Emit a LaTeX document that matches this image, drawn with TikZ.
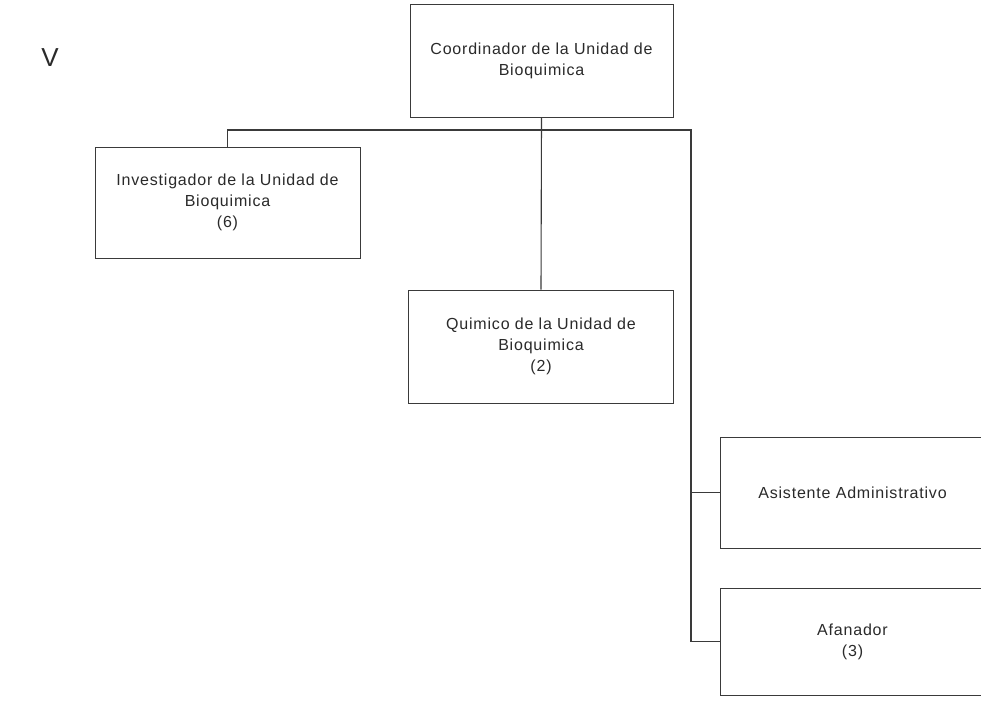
\documentclass[tikz,border=0pt]{standalone}
\usepackage{fontspec}
\setmainfont{Liberation Sans}
\newfontfamily\boxfont{Liberation Sans}[LetterSpace=5]
\definecolor{txt}{HTML}{2A2A2A}
\definecolor{ln}{HTML}{3A3A3A}
\begin{document}
\begin{tikzpicture}[x=1pt,y=-1pt,
  orgbox/.style={draw=ln, line width=1pt, rectangle, align=center, inner sep=0pt,
    text=txt, font=\boxfont\fontsize{16}{21}\selectfont},
  link/.style={draw=ln, line width=1.1pt}]
\useasboundingbox (0,0) rectangle (981,702);
\clip (0,0) rectangle (981,702);
\fill[white] (0,0) rectangle (981,702);
\node[text=txt, font=\fontsize{26}{26}\selectfont] (v) at (50,58) {V};
\node[orgbox, minimum width=263pt, minimum height=113pt] (top) at (541.5,60.5)
  {Coordinador de la Unidad de\\Bioquimica};
\node[orgbox, minimum width=265pt, minimum height=111pt] (left) at (227.5,202.5)
  {Investigador de la Unidad de\\Bioquimica\\(6)};
\node[orgbox, minimum width=265pt, minimum height=113pt] (mid) at (541,346.5)
  {Quimico de la Unidad de\\Bioquimica\\(2)};
\node[orgbox, minimum width=265pt, minimum height=111pt] (asis) at (852.5,492.5)
  {Asistente Administrativo};
\node[orgbox, minimum width=265pt, minimum height=107pt] (afan) at (852.5,641.5)
  {Afanador\\(3)};
\coordinate (rt) at (691,130);
\draw[link] (top.south) -- (mid.north);
\draw[link] (left.north) |- (rt) |- (afan.west);
\draw[link] (asis.west) -- (asis.west -| rt);
\end{tikzpicture}
\end{document}
